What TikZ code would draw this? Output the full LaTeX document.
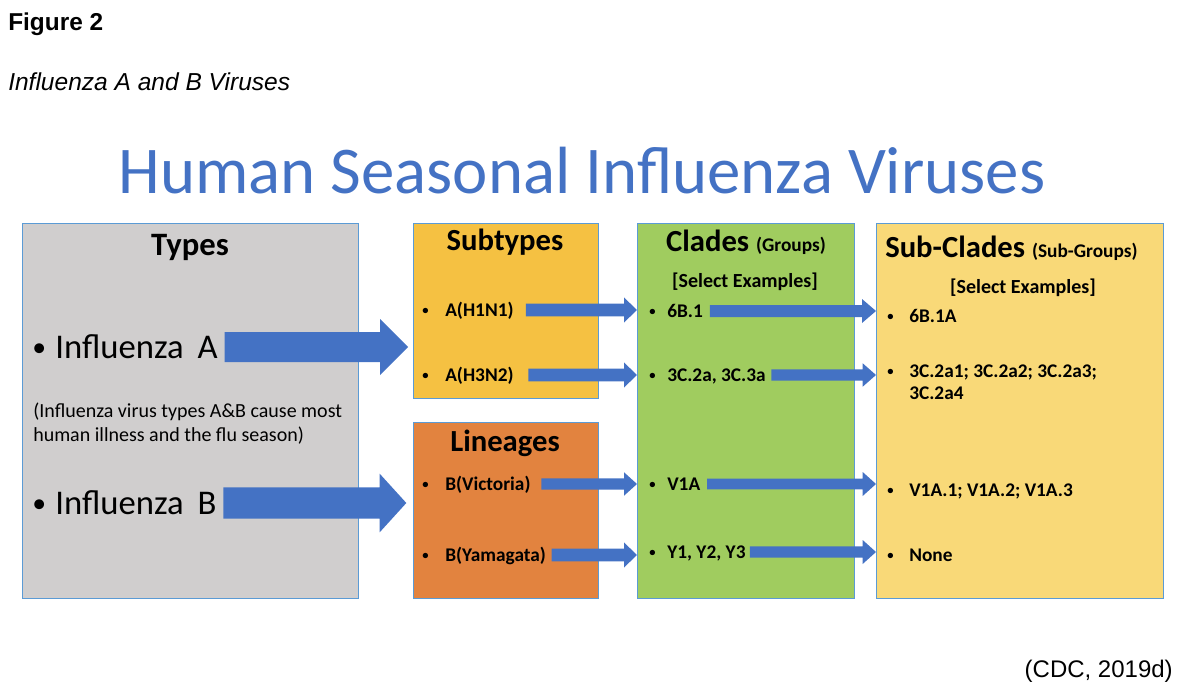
\documentclass[tikz,border=0pt]{standalone}
\usepackage{fontspec}
\setmainfont{Carlito}
\newfontfamily\helv{Liberation Sans}
\usetikzlibrary{calc}
\definecolor{arrblue}{HTML}{4472C4}
\definecolor{boxline}{HTML}{5B9BD5}
\definecolor{typesfill}{HTML}{D0CECE}
\definecolor{subfill}{HTML}{F5C142}
\definecolor{linfill}{HTML}{E2833F}
\definecolor{cladefill}{HTML}{A0CC5F}
\definecolor{subcladefill}{HTML}{F9D978}
% block arrow: start, end, half shaft, half head, head length
\newcommand\blockarrow[5]{\fill[arrblue] let \p1=(#1), \p2=(#2) in
  (\x1,\y1+#3) -- (\x2-#5,\y1+#3) -- (\x2-#5,\y1+#4) -- (\x2,\y1) --
  (\x2-#5,\y1-#4) -- (\x2-#5,\y1-#3) -- (\x1,\y1-#3) -- cycle;}
\newcommand\bul[1]{\makebox[#1][l]{\raisebox{0.11em}{\scalebox{0.65}{•}}}}
\newcommand\bigbul[1]{\makebox[#1][l]{\raisebox{0.06em}{\scalebox{0.8}{•}}}}
\tikzset{
  box/.style={draw=boxline, line width=0.75pt, anchor=north west, inner sep=0pt},
  head/.style={font=\bfseries\fontsize{23}{27}\selectfont, inner sep=0pt, anchor=base},
  item/.style={font=\bfseries\fontsize{14.5}{16.5}\selectfont, inner sep=0pt, anchor=west, text height=9.3pt, text depth=0pt},
  sel/.style={font=\bfseries\fontsize{15}{18}\selectfont, inner sep=0pt, anchor=base},
  big/.style={font=\fontsize{26}{31}\selectfont, inner sep=0pt, anchor=west, text height=16.7pt, text depth=0pt},
}
\begin{document}
\begin{tikzpicture}[x=0.75pt,y=-0.75pt]
\useasboundingbox (0,0) rectangle (1190,692);
% header texts
\node[anchor=base west, inner sep=0pt, font=\helv\bfseries\fontsize{18.3}{22}\selectfont] (fig) at (8,31) {Figure 2};
\node[anchor=base west, inner sep=0pt, font=\helv\itshape\fontsize{18.4}{22}\selectfont] (sub) at (8,91) {Influenza A and B Viruses};
\node[anchor=base, inner sep=0pt, text=arrblue, font=\fontsize{50.1}{60}\selectfont] (title) at (582,193) {Human Seasonal Influenza Viruses};
\node[anchor=base east, inner sep=0pt, font=\helv\fontsize{18}{22}\selectfont] (cite) at (1173,677) {(CDC, 2019d)};
% boxes
\node[box, fill=typesfill, minimum width=252pt, minimum height=281.25pt] (types) at (22,223) {};
\node[box, fill=subfill, minimum width=138.75pt, minimum height=131.25pt] (subtypes) at (413,223) {};
\node[box, fill=linfill, minimum width=138.75pt, minimum height=132pt] (lineages) at (413,422) {};
\node[box, fill=cladefill, minimum width=162.75pt, minimum height=281.25pt] (clades) at (637,223) {};
\node[box, fill=subcladefill, minimum width=215.25pt, minimum height=281.25pt] (subclades) at (876,223) {};
% headings
\node[head, font=\bfseries\fontsize{24.5}{29}\selectfont] (typesh) at (190,255) {Types};
\node[head] (subtypesh) at (505,250) {Subtypes};
\node[head] (lineagesh) at (505,451) {Lineages};
\node[head] (cladesh) at (746,251) {Clades {\fontsize{14.5}{17}\selectfont(Groups)}};
\node[sel] (cladessel) at (745,287) {[Select Examples]};
\node[head, anchor=base west] (subcladesh) at (885,257) {Sub-Clades {\fontsize{14.5}{17}\selectfont(Sub-Groups)}};
\node[sel] (subcladessel) at (1023,293) {[Select Examples]};
% types content
\node[big] (infA) at (32,347) {\bigbul{17.25pt}Influenza\hspace{0.4em}A};
\node[big] (infB) at (32,503) {\bigbul{17.25pt}Influenza\hspace{0.4em}B};
\node[anchor=north west, inner sep=0pt, align=left, font=\fontsize{15}{18}\selectfont] (note) at (33,403) {(Influenza virus types A\&B cause most\\human illness and the flu season)};
% subtypes / lineages items
\node[item] (h1n1) at (422,310) {\bul{17.25pt}A(H1N1)};
\node[item] (h3n2) at (422,375) {\bul{17.25pt}A(H3N2)};
\node[item] (vic) at (422,484) {\bul{17.25pt}B(Victoria)};
\node[item] (yam) at (422,555) {\bul{17.25pt}B(Yamagata)};
% clades items
\node[item] (c6b) at (649,311) {\bul{13.5pt}6B.1};
\node[item] (c3c) at (649,375) {\bul{13.5pt}3C.2a, 3C.3a};
\node[item] (cv1a) at (649,484) {\bul{13.5pt}V1A};
\node[item] (cy) at (649,552) {\bul{13.5pt}Y1, Y2, Y3};
% sub-clades items
\node[item] (s6b) at (887,316) {\bul{16.5pt}6B.1A};
\node[item, anchor=north west, align=left, text height=, text depth=] (s3c) at (887,365) {\bul{16.5pt}3C.2a1; 3C.2a2; 3C.2a3;\\\hspace*{16.5pt}3C.2a4};
\node[item] (sv1a) at (887,490) {\bul{16.5pt}V1A.1; V1A.2; V1A.3};
\node[item] (snone) at (887,555) {\bul{16.5pt}None};
% arrows
\blockarrow{[xshift=5pt]infA.east}{[xshift=-3.75pt]subtypes.west}{11.25pt}{21pt}{21pt}
\blockarrow{[xshift=5pt]infB.east}{[xshift=-5pt]lineages.west}{11.7pt}{22pt}{20pt}
\blockarrow{[xshift=9pt]h1n1.east}{clades.west}{4.7pt}{9.4pt}{9.75pt}
\blockarrow{[xshift=11pt]h3n2.east}{clades.west}{4.7pt}{9.4pt}{9.75pt}
\blockarrow{[xshift=8pt]vic.east}{clades.west}{4.2pt}{8.8pt}{9.75pt}
\blockarrow{[xshift=4pt]yam.east}{clades.west}{4.7pt}{9.4pt}{9.75pt}
\blockarrow{[xshift=5pt]c6b.east}{subclades.west}{4.5pt}{9pt}{10.5pt}
\blockarrow{[xshift=4pt]c3c.east}{subclades.west}{4.2pt}{8.8pt}{10pt}
\blockarrow{[xshift=5pt]cv1a.east}{subclades.west}{4pt}{9pt}{10pt}
\blockarrow{[xshift=3pt]cy.east}{subclades.west}{4.2pt}{9pt}{10pt}
\end{tikzpicture}
\end{document}
